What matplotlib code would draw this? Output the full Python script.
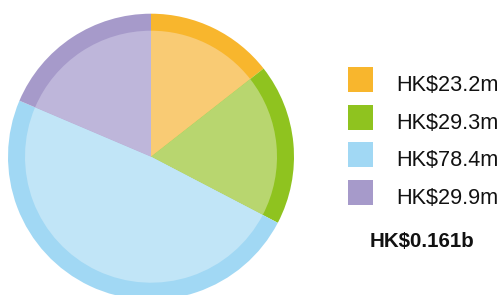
import matplotlib
matplotlib.use("Agg")
import matplotlib.pyplot as plt
from matplotlib.patches import Rectangle

values = [23.2, 29.3, 78.4, 29.9]
labels = ["HK$23.2m", "HK$29.3m", "HK$78.4m", "HK$29.9m"]
total_label = "HK$0.161b"
outer_colors = ["#F8B62D", "#8FC31F", "#A1D8F4", "#A69ACA"]
inner_colors = ["#F9CB74", "#B8D66F", "#C1E5F7", "#BEB6DA"]

W, H = 503, 295
fig = plt.figure(figsize=(W / 100, H / 100), dpi=100)
ax = fig.add_axes([0, 0, 1, 1])

cx, cy = 151, H - 156.7
ax.pie(values, colors=outer_colors, radius=143, center=(cx, cy),
       startangle=90, counterclock=False, wedgeprops=dict(linewidth=0))
ax.pie(values, colors=inner_colors, radius=126, center=(cx, cy),
       startangle=90, counterclock=False, wedgeprops=dict(linewidth=0))

ax.set_xlim(0, W)
ax.set_ylim(0, H)
ax.set_aspect("equal")
ax.axis("off")

plt.rcParams["font.family"] = ["Liberation Sans", "DejaVu Sans"]
tops = [67, 105, 142, 180]
for top, lab, col in zip(tops, labels, outer_colors):
    ax.add_patch(Rectangle((348, H - top - 25), 25, 25, facecolor=col, edgecolor="none"))
    ax.text(396.5, H - (top + 24), lab, fontsize=15.6, va="baseline", ha="left",
            color="#111111", family=["Liberation Sans", "DejaVu Sans"])

ax.text(369.5, H - 247, total_label, fontsize=14.8, fontweight="bold", va="baseline",
        ha="left", color="#111111", family=["Liberation Sans", "DejaVu Sans"])

fig.savefig("out.png", dpi=100)
